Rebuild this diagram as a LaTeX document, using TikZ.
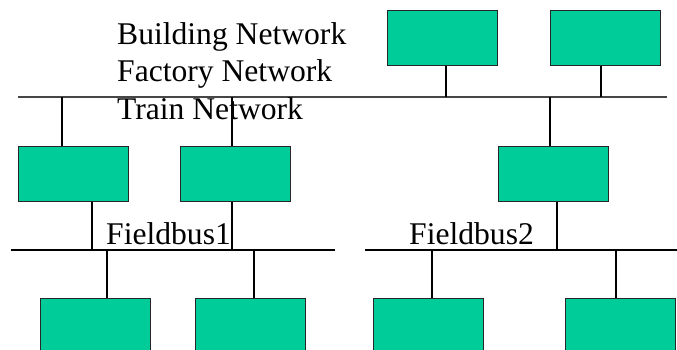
\documentclass[tikz,border=0pt]{standalone}
\usepackage{fontspec}
\setmainfont{Liberation Serif}
\definecolor{boxgreen}{RGB}{0,204,153}
\definecolor{busgray}{RGB}{70,70,70}

\tikzset{
  device/.style={draw=black!85, fill=boxgreen, line width=1pt, minimum width=110pt, minimum height=55pt, inner sep=0pt},
  bus/.style={line width=1.2pt},
  tap/.style={line width=1.2pt},
  label/.style={font=\fontsize{31.6}{37.5}\selectfont, inner sep=0pt, anchor=base west}
}

\begin{document}
\begin{tikzpicture}[x=1pt, y=-1pt]
    \useasboundingbox (0,0) rectangle (677,349);
    \clip (0,0) rectangle (677,349);

    % Bus lines
    \coordinate (topw) at (18,97);
    \coordinate (tope) at (667,97);
    \coordinate (fb1w) at (11,250);
    \coordinate (fb1e) at (335,250);
    \coordinate (fb2w) at (365,250);
    \coordinate (fb2e) at (677,250);
    \draw[bus, busgray] (topw) -- (tope);
    \draw[bus] (fb1w) -- (fb1e);
    \draw[bus] (fb2w) -- (fb2e);

    % Devices
    \node[device] (t1) at (442.5,37.5) {};
    \node[device] (t2) at (605,37.5) {};
    \node[device] (m1) at (73,173.5) {};
    \node[device] (m2) at (235.5,173.5) {};
    \node[device] (m3) at (553,173.5) {};
    \node[device] (b1) at (95.5,325.5) {};
    \node[device] (b2) at (250.5,325.5) {};
    \node[device] (b3) at (428,325.5) {};
    \node[device] (b4) at (620,325.5) {};

    % Taps on the top bus
    \draw[tap] ([xshift=3.5]t1.south) -- ([xshift=3.5]t1.south |- topw);
    \draw[tap] ([xshift=-4]t2.south) -- ([xshift=-4]t2.south |- topw);
    \draw[tap] ([xshift=-11]m1.north) -- ([xshift=-11]m1.north |- topw);
    \draw[tap] ([xshift=-3.5]m2.north) -- ([xshift=-3.5]m2.north |- topw);
    \draw[tap] ([xshift=-3]m3.north) -- ([xshift=-3]m3.north |- topw);

    % Taps on the fieldbuses
    \draw[tap] ([xshift=19]m1.south) -- ([xshift=19]m1.south |- fb1w);
    \draw[tap] ([xshift=-3.5]m2.south) -- ([xshift=-3.5]m2.south |- fb1w);
    \draw[tap] ([xshift=4]m3.south) -- ([xshift=4]m3.south |- fb2w);
    \draw[tap] ([xshift=11.5]b1.north) -- ([xshift=11.5]b1.north |- fb1w);
    \draw[tap] ([xshift=3.5]b2.north) -- ([xshift=3.5]b2.north |- fb1w);
    \draw[tap] ([xshift=4]b3.north) -- ([xshift=4]b3.north |- fb2w);
    \draw[tap] ([xshift=-4]b4.north) -- ([xshift=-4]b4.north |- fb2w);

    % Labels
    \node[label] (building) at (117,44) {Building Network};
    \node[label] (factory) at (117,81.5) {Factory Network};
    \node[label] (train) at (117,119) {Train Network};
    \node[label] (fieldbus1) at (106,244) {Fieldbus1};
    \node[label] (fieldbus2) at (409,244) {Fieldbus2};
\end{tikzpicture}
\end{document}
